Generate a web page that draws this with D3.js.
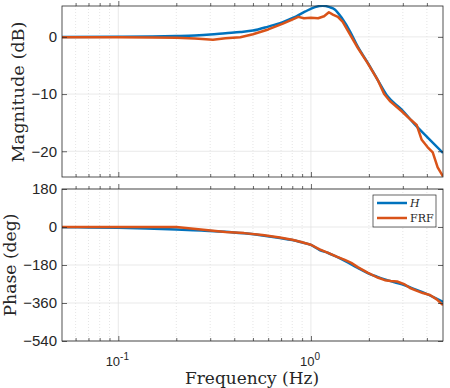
<!DOCTYPE html>
<html>
<head>
<meta charset="utf-8">
<script src="https://cdn.jsdelivr.net/npm/d3@7"></script>
<style>
  body { margin: 0; background: #fff; }
  text { fill: #262626; }
</style>
</head>
<body>
<svg id="chart" width="450" height="388"></svg>
<script>
var w = 450;
var h = 388;
var sansFont = "'Liberation Sans', Arial, sans-serif";
var serifFont = "'DejaVu Serif', 'Liberation Serif', serif";

// frequency range (Hz) and ticks
var freqLim = [0.051, 4.85];
var freqTicks = [0.1, 1];
var freqTickExp = ["-1", "0"];
var freqMinor = [0.06, 0.07, 0.08, 0.09, 0.2, 0.3, 0.4, 0.5, 0.6, 0.7, 0.8, 0.9, 2, 3, 4];

var magLim = [-24.5, 5.4];
var magTicks = [-20, -10, 0];
var phaseLim = [-540, 180];
var phaseTicks = [-540, -360, -180, 0, 180];

// H : model
var hFreq = [0.051, 0.1, 0.15, 0.2, 0.25, 0.3, 0.36, 0.43, 0.5, 0.6, 0.71, 0.81, 0.93, 1.05, 1.15, 1.25, 1.33, 1.45, 1.6, 1.75, 1.97, 2.22, 2.5, 2.96, 3.46, 4.04, 4.85];
var hMag = [0, 0.02, 0.06, 0.15, 0.25, 0.4, 0.64, 0.85, 1.1, 1.8, 2.55, 3.35, 4.4, 5.2, 5.45, 5.2, 4.8, 3.25, 0.9, -1.7, -4.5, -7.5, -10.4, -12.7, -15.3, -17.6, -20.3];
var hPhaseFreq = [0.051, 0.07, 0.1, 0.14, 0.2, 0.27, 0.36, 0.45, 0.56, 0.69, 0.8, 0.88, 1.0, 1.11, 1.22, 1.33, 1.5, 1.75, 1.97, 2.2, 2.42, 2.72, 3.07, 3.45, 3.9, 4.35, 4.85];
var hPhase = [-1, -2, -4, -7, -12, -17, -22, -30, -40, -52, -62, -71, -85, -109, -122, -137, -160, -194, -218, -235, -248, -262, -276, -294, -313, -333, -355];

// FRF : measured
var frfFreq = [0.051, 0.1, 0.15, 0.2, 0.25, 0.31, 0.36, 0.43, 0.5, 0.6, 0.71, 0.81, 0.86, 0.92, 1.0, 1.09, 1.17, 1.24, 1.3, 1.38, 1.46, 1.75, 1.97, 2.22, 2.4, 2.57, 2.96, 3.3, 3.54, 3.76, 4.04, 4.29, 4.55, 4.85];
var frfMag = [-0.05, -0.05, -0.1, -0.15, -0.3, -0.5, -0.25, -0.05, 0.47, 1.3, 2.26, 3.1, 3.5, 3.25, 3.35, 3.25, 3.6, 4.3, 3.9, 3.5, 2.65, -1.9, -4.6, -7.5, -10.0, -11.2, -13.0, -14.5, -15.4, -18.0, -19.3, -20.2, -22.8, -24.4];
var frfPhaseFreq = [0.051, 0.1, 0.2, 0.36, 0.45, 0.56, 0.69, 0.8, 0.88, 1.0, 1.11, 1.22, 1.36, 1.5, 1.62, 1.75, 1.97, 2.2, 2.42, 2.6, 2.8, 3.07, 3.27, 3.5, 3.81, 4.15, 4.5, 4.85];
var frfPhase = [0, 0, 0, -24, -29, -38, -50, -60, -70, -84, -106, -121, -140, -156, -170, -190, -216, -238, -252, -256, -258, -272, -289, -300, -313, -322, -343, -370];

var blue = "#0072BD";
var orange = "#D95319";
var axisCol = "#262626";

var svg = d3.select("#chart");

var x = d3.scaleLog().domain(freqLim).range([62, 443]);
var yMag = d3.scaleLinear().domain(magLim).range([177, 6]);
var yPh = d3.scaleLinear().domain(phaseLim).range([341, 189]);

//draw one panel
function panel(y, ticks, id, series, showX) {
    var top = y.range()[1], bot = y.range()[0];
    var left = x.range()[0], right = x.range()[1];
    var g = svg.append("g");

    g.append("rect")
        .attr("x", left).attr("y", top)
        .attr("width", right - left).attr("height", bot - top)
        .attr("fill", "#fff");

    //minor vertical grid
    g.selectAll(".minor").data(freqMinor).enter().append("line")
        .attr("x1", d => x(d)).attr("x2", d => x(d))
        .attr("y1", top).attr("y2", bot)
        .attr("stroke", "#d4d4d4").attr("stroke-width", 0.6)
        .attr("stroke-dasharray", "1,2");
    //major grid
    g.selectAll(".vmaj").data(freqTicks).enter().append("line")
        .attr("x1", d => x(d)).attr("x2", d => x(d))
        .attr("y1", top).attr("y2", bot)
        .attr("stroke", "#e3e3e3").attr("stroke-width", 0.8);
    g.selectAll(".hmaj").data(ticks).enter().append("line")
        .attr("x1", left).attr("x2", right)
        .attr("y1", d => y(d)).attr("y2", d => y(d))
        .attr("stroke", "#e3e3e3").attr("stroke-width", 0.8);

    //curves
    svg.append("clipPath").attr("id", id)
        .append("rect")
        .attr("x", left).attr("y", top - 1)
        .attr("width", right - left).attr("height", bot - top + 2);
    series.forEach(s => {
        var line = d3.line()
            .x(d => x(d[0]))
            .y(d => y(d[1]))
            .curve(s.curve);
        g.append("path")
            .datum(d3.zip(s.f, s.v))
            .attr("clip-path", `url(#${id})`)
            .attr("fill", "none")
            .attr("stroke", s.color)
            .attr("stroke-width", 2.5)
            .attr("stroke-linejoin", "round")
            .attr("d", line);
    });

    //axes, ticks inside
    var yl = g.append("g").attr("transform", `translate(${left},0)`)
        .call(d3.axisLeft(y).tickValues(ticks).tickSizeInner(-5).tickSizeOuter(0).tickPadding(5));
    g.append("g").attr("transform", `translate(${right},0)`)
        .call(d3.axisRight(y).tickValues(ticks).tickSizeInner(-5).tickSizeOuter(0).tickFormat(""));
    [[bot, d3.axisBottom, -1], [top, d3.axisTop, 1]].forEach(p => {
        g.append("g").attr("transform", `translate(0,${p[0]})`)
            .call(p[1](x).tickValues(freqMinor).tickSizeInner(3 * p[2]).tickSizeOuter(0).tickFormat(""));
        g.append("g").attr("transform", `translate(0,${p[0]})`)
            .call(p[1](x).tickValues(freqTicks).tickSizeInner(5 * p[2]).tickSizeOuter(0).tickFormat(""));
    });
    g.selectAll(".domain").remove();
    g.selectAll(".tick line").attr("stroke", axisCol).attr("stroke-width", 0.7);
    yl.attr("font-family", sansFont).attr("font-size", 15);
    yl.selectAll("text").attr("fill", axisCol);

    if (showX) {
        var lab = g.selectAll(".xlab").data(freqTicks).enter().append("text")
            .attr("font-family", sansFont)
            .attr("x", d => x(d) - 1).attr("y", bot + 25)
            .attr("text-anchor", "middle")
            .attr("font-size", 13);
        lab.append("tspan").text("10");
        lab.append("tspan").attr("dy", -6).attr("font-size", 10)
            .text((d, i) => freqTickExp[i]);
    }

    g.append("rect")
        .attr("x", left).attr("y", top)
        .attr("width", right - left).attr("height", bot - top)
        .attr("fill", "none").attr("stroke", axisCol).attr("stroke-width", 0.8);
    return g;
}

panel(yMag, magTicks, "clipMag", [
    { f: hFreq, v: hMag, color: blue, curve: d3.curveMonotoneX },
    { f: frfFreq, v: frfMag, color: orange, curve: d3.curveLinear }
], false);

panel(yPh, phaseTicks, "clipPh", [
    { f: hPhaseFreq, v: hPhase, color: blue, curve: d3.curveMonotoneX },
    { f: frfPhaseFreq, v: frfPhase, color: orange, curve: d3.curveLinear }
], true);

//legend
var legendItems = [{ name: "H", color: blue, italic: true }, { name: "FRF", color: orange, italic: false }];
var lg = svg.append("g").attr("transform", "translate(373,195)");
lg.append("rect").attr("width", 63).attr("height", 32)
    .attr("fill", "#fff").attr("stroke", axisCol).attr("stroke-width", 0.7);
legendItems.forEach((d, i) => {
    lg.append("line")
        .attr("x1", 4).attr("x2", 34)
        .attr("y1", 8 + i * 15).attr("y2", 8 + i * 15)
        .attr("stroke", d.color).attr("stroke-width", 2.5);
    lg.append("text")
        .attr("font-family", serifFont)
        .attr("x", 37).attr("y", 8 + i * 15)
        .attr("dy", "0.35em")
        .attr("font-style", d.italic ? "italic" : "normal")
        .attr("font-size", 11)
        .text(d.name);
});

//axis titles, squeezed/stretched to the width of the original LaTeX text
function title(txt, tr, width) {
    svg.append("text")
        .attr("font-family", serifFont)
        .attr("transform", tr)
        .attr("text-anchor", "middle")
        .attr("font-size", 17)
        .attr("textLength", width)
        .attr("lengthAdjust", "spacingAndGlyphs")
        .text(txt);
}
title("Magnitude (dB)", "translate(24,92) rotate(-90)", 141);
title("Phase (deg)", "translate(16,265) rotate(-90)", 103);
title("Frequency (Hz)", "translate(252,384)", 134);
</script>
</body>
</html>
